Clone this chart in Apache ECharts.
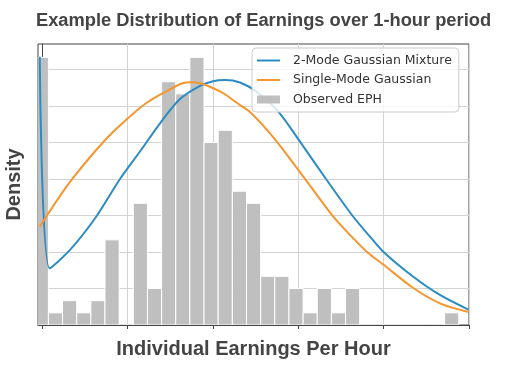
<!DOCTYPE html>
<html>
<head>
<meta charset="utf-8">
<script src="https://cdn.jsdelivr.net/npm/echarts@6/dist/echarts.min.js"></script>
<style>
html,body{margin:0;padding:0;background:#fff;}
#chart{width:512px;height:383px;}
</style>
</head>
<body>
<div id="chart"></div>
<script>
// Histogram of observed earnings per hour (counts per bin)
const binStart = -0.91;
const binWidth = 1.657;
const counts = [22, 1, 2, 1, 2, 7, 0, 10, 3, 20, 19, 22, 15, 16, 11, 10, 4, 4, 3, 1, 3, 1, 3, 0, 0, 0, 0, 0, 0, 1];

// 2-Mode Gaussian Mixture curve
const mixX = [-0.27, 0.90, 3.28, 6.32, 9.13, 11.47, 13.82, 16.16, 18.50, 19.91, 21.43, 23.18, 25.14, 27.67, 30.21, 33.34, 36.45, 38.41, 39.96, 43.48, 46.60, 49.92];
const mixY = [22.06, 4.66, 6.17, 8.88, 12.00, 14.26, 16.58, 18.57, 19.65, 20.02, 20.14, 19.94, 19.18, 17.54, 15.07, 11.92, 8.90, 7.26, 6.03, 3.97, 2.47, 1.27];

// Single-Mode Gaussian curve
const gaussX = [-0.27, 3.28, 7.34, 9.83, 12.18, 14.20, 16.54, 17.53, 18.50, 20.06, 21.23, 23.18, 24.36, 26.70, 28.25, 30.60, 34.11, 36.07, 38.02, 39.96, 43.48, 46.60, 49.92];
const gaussY = [8.08, 11.76, 15.17, 16.85, 18.23, 19.07, 19.89, 19.95, 19.87, 19.46, 19.05, 18.09, 17.51, 15.76, 14.39, 12.19, 8.90, 7.40, 6.03, 4.97, 3.04, 1.78, 1.07];

const xTicks = [0, 10, 20, 30, 40, 50];
const yTicks = [0, 3, 6, 9, 12, 15, 18, 21];

const titleText = 'Example Distribution of Earnings over 1-hour period';
const xName = 'Individual Earnings Per Hour';
const yName = 'Density';
const names = ['2-Mode Gaussian Mixture', 'Single-Mode Gaussian', 'Observed EPH'];

const histData = counts.map((c, i) => [binStart + i * binWidth, binStart + (i + 1) * binWidth, c]);
const mixData = mixX.map((x, i) => [x, mixY[i]]);
const gaussData = gaussX.map((x, i) => [x, gaussY[i]]);

const lineIcon = 'path://M0,0H46V4H0Z';

const chart = echarts.init(document.getElementById('chart'), null, {renderer: 'canvas'});
chart.setOption({
  animation: false,
  backgroundColor: '#fff',
  title: {
    text: titleText,
    left: 36, top: 12, padding: 0,
    textStyle: {fontFamily: 'Liberation Sans', fontWeight: 'bold', fontSize: 18.3, color: '#444'}
  },
  legend: {
    orient: 'vertical',
    left: 252, top: 48,
    padding: [5, 7, 5, 5],
    itemGap: 4.5,
    itemWidth: 23, itemHeight: 8,
    backgroundColor: 'rgba(255,255,255,0.8)',
    borderColor: '#ccc', borderWidth: 1, borderRadius: 4,
    textStyle: {fontFamily: 'DejaVu Sans', fontSize: 12.5, color: '#333', lineHeight: 15, padding: [0, 0, 0, 8]},
    data: [
      {name: names[0], icon: lineIcon},
      {name: names[1], icon: lineIcon},
      {name: names[2], icon: 'rect'}
    ]
  },
  grid: {left: 38, right: 43, top: 44, bottom: 58, outerBoundsMode: 'none', containLabel: false,
         show: true, borderColor: '#444', borderWidth: 1, backgroundColor: 'transparent'},
  xAxis: {
    type: 'value', min: -0.47, max: 50,
    name: xName, nameLocation: 'middle', nameGap: 14,
    nameTextStyle: {fontFamily: 'Liberation Sans', fontWeight: 'bold', fontSize: 20, color: '#444'},
    axisLine: {show: true, lineStyle: {color: '#444', width: 1}},
    axisTick: {show: true, length: 4, lineStyle: {color: '#444'}, customValues: xTicks},
    axisLabel: {show: false},
    splitLine: {show: true, lineStyle: {color: '#d3d3d3', width: 1}}
  },
  yAxis: {
    type: 'value', min: 0, max: 23.1,
    name: yName, nameLocation: 'middle', nameGap: 14, nameRotate: 90,
    nameTextStyle: {fontFamily: 'Liberation Sans', fontWeight: 'bold', fontSize: 20, color: '#444'},
    axisLine: {show: true, lineStyle: {color: '#444', width: 1}},
    axisTick: {show: true, length: 4, lineStyle: {color: '#444'}, customValues: yTicks},
    axisLabel: {show: false},
    splitLine: {show: true, lineStyle: {color: '#d3d3d3', width: 1}}
  },
  series: [
    {
      name: names[2],
      type: 'custom',
      clip: true,
      itemStyle: {color: '#bfbfbf'},
      encode: {x: [0, 1], y: 2},
      data: histData,
      z: 1,
      renderItem: function (params, api) {
        const p0 = api.coord([api.value(0), api.value(2)]);
        const p1 = api.coord([api.value(1), 0]);
        return {
          type: 'rect',
          shape: {x: p0[0], y: p0[1], width: p1[0] - p0[0], height: p1[1] - p0[1]},
          style: {fill: '#bfbfbf', stroke: '#ffffff', lineWidth: 1}
        };
      }
    },
    {
      name: names[0], type: 'line', data: mixData, symbol: 'none', smooth: 0.3, z: 3,
      lineStyle: {color: '#2b8cc4', width: 2}, itemStyle: {color: '#2b8cc4'}
    },
    {
      name: names[1], type: 'line', data: gaussData, symbol: 'none', smooth: 0.3, z: 3,
      lineStyle: {color: '#f5962e', width: 2}, itemStyle: {color: '#f5962e'}
    }
  ]
});
</script>
</body>
</html>
